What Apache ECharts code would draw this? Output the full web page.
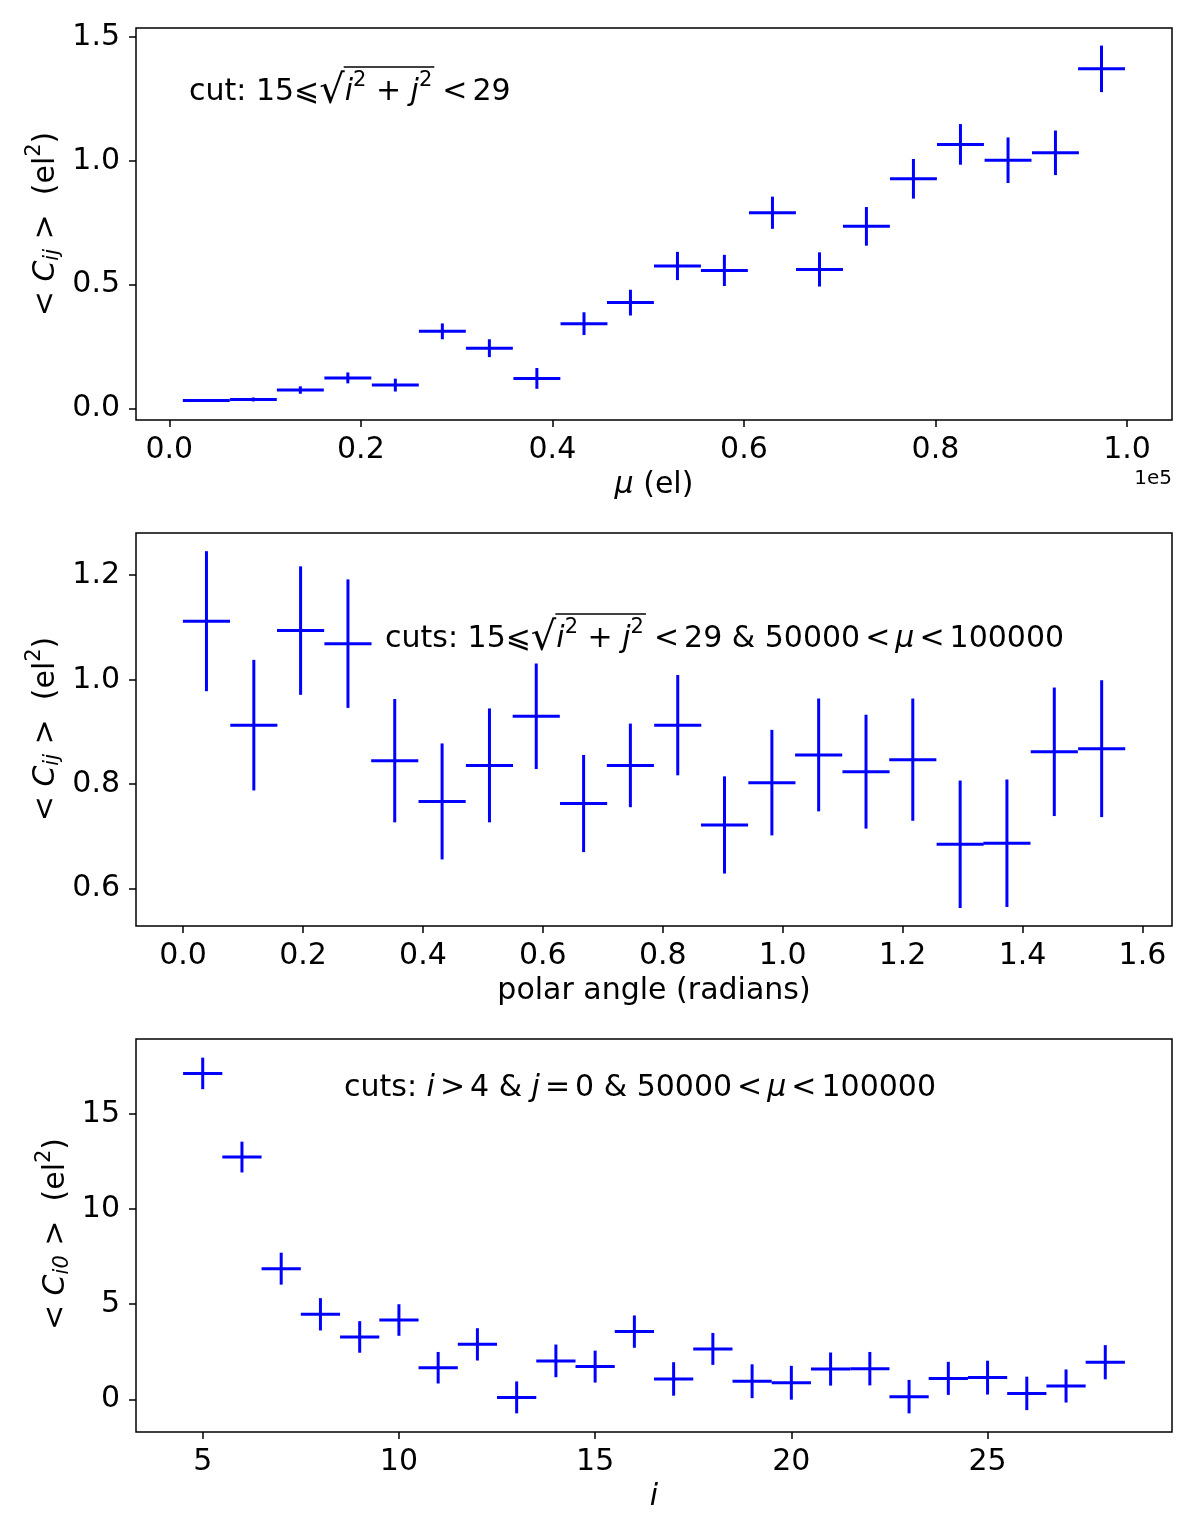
<!DOCTYPE html>
<html>
<head>
<meta charset="utf-8">
<script src="https://cdn.jsdelivr.net/npm/echarts@6/dist/echarts.min.js"></script>
<style>
  html, body { margin: 0; padding: 0; background: #fff; }
  #chartBox { width: 1200px; height: 1535px; }
</style>
</head>
<body>
<div id="chartBox"></div>
<script>
// panel 1: <C_ij> vs mu (el), bins of mu
const muCenters = [3860, 8770, 13680, 18640, 23600, 28510, 33420, 38380, 43300, 48150,
  53060, 57960, 62980, 67890, 72790, 77700, 82610, 87580, 92530, 97340]
const muHalfBin = 2450
const cijByMu = [0.032, 0.036, 0.074, 0.123, 0.094, 0.311, 0.243, 0.121, 0.342, 0.427,
  0.575, 0.557, 0.790, 0.561, 0.735, 0.927, 1.066, 1.002, 1.032, 1.371]
const cijByMuErr = [0.003, 0.008, 0.015, 0.022, 0.026, 0.032, 0.036, 0.042, 0.046, 0.052,
  0.057, 0.063, 0.065, 0.069, 0.078, 0.080, 0.082, 0.092, 0.090, 0.094]

// panel 2: <C_ij> vs polar angle
const angleCenters = [0.039, 0.118, 0.196, 0.275, 0.353, 0.432, 0.511, 0.589, 0.668, 0.746,
  0.825, 0.903, 0.982, 1.060, 1.139, 1.217, 1.296, 1.374, 1.453, 1.532]
const angleHalfBin = 0.0393
const cijByAngle = [1.112, 0.913, 1.094, 1.069, 0.845, 0.767, 0.836, 0.930, 0.763, 0.836,
  0.913, 0.722, 0.803, 0.856, 0.824, 0.847, 0.685, 0.687, 0.862, 0.868]
const cijByAngleErr = [0.134, 0.125, 0.123, 0.123, 0.118, 0.111, 0.109, 0.101, 0.093, 0.080,
  0.096, 0.093, 0.101, 0.108, 0.109, 0.117, 0.122, 0.122, 0.123, 0.131]

// panel 3: <C_i0> vs i
const iValues = [5, 6, 7, 8, 9, 10, 11, 12, 13, 14, 15, 16, 17, 18, 19, 20, 21, 22, 23, 24, 25, 26, 27, 28]
const iHalfBin = 0.5
const ci0 = [17.14, 12.74, 6.87, 4.47, 3.28, 4.17, 1.66, 2.89, 0.10, 2.02, 1.72, 3.56,
  1.07, 2.65, 0.95, 0.87, 1.59, 1.61, 0.14, 1.10, 1.14, 0.31, 0.70, 1.95]
const ci0Err = [0.83, 0.81, 0.84, 0.85, 0.83, 0.83, 0.83, 0.85, 0.84, 0.86, 0.84, 0.85,
  0.88, 0.84, 0.89, 0.89, 0.87, 0.88, 0.88, 0.87, 0.89, 0.88, 0.87, 0.90]

// tick labels
const xTicks1 = [0, 20000, 40000, 60000, 80000, 100000]
const yTicks1 = [0, 0.5, 1.0, 1.5]
const xTicks2 = [0, 0.2, 0.4, 0.6, 0.8, 1.0, 1.2, 1.4, 1.6]
const yTicks2 = [0.6, 0.8, 1.0, 1.2]
const xTicks3 = [5, 10, 15, 20, 25]
const yTicks3 = [0, 5, 10, 15]

const FONT = 'DejaVu Sans'
const FS = 30
const SUB = 21
const BLUE = '#0000ff'
const RS = '\u2006' // 关系符两边的窄空格

// 文字宽度测量, 用来拼公式
const measureCtx = document.createElement('canvas').getContext('2d')
function textWidth(t, size, italic) {
  measureCtx.font = (italic ? 'italic ' : '') + size + 'px "' + FONT + '"'
  return measureCtx.measureText(t).width
}

// segs: {t, it, sz, dy, over}
function mathText(segs, x, y, opts = {}) {
  const children = []
  let cx = 0
  let overStart = null
  let overEnd = null
  segs.forEach((s) => {
    const sz = s.sz || FS
    const w = textWidth(s.t, sz, s.it)
    children.push({
      type: 'text',
      x: cx,
      y: s.dy || 0,
      style: {
        text: s.t,
        font: (s.it ? 'italic ' : '') + sz + 'px "' + FONT + '"',
        fill: '#000',
        align: 'left',
        verticalAlign: 'middle',
      },
    })
    if (s.over) {
      if (overStart === null) overStart = cx
      overEnd = cx + w
    }
    cx += w
  })
  if (overStart !== null) {
    children.push({
      type: 'line',
      shape: { x1: overStart - 1, y1: opts.overY, x2: overEnd + 2, y2: opts.overY },
      style: { stroke: '#000', lineWidth: 1.5 },
    })
  }
  if (opts.center) {
    children.forEach((c) => {
      if (c.type === 'text') c.x -= cx / 2
      else { c.shape.x1 -= cx / 2; c.shape.x2 -= cx / 2 }
    })
  }
  return { type: 'group', x: x, y: y, rotation: opts.rotation || 0, children: children }
}

const sup = (t) => ({ t: t, sz: SUB, dy: -11 })
const sqrtPart = [
  { t: '√', sz: 40, dy: 1 },
  { t: 'i', it: true, over: true },
  { t: '2', sz: SUB, dy: -11, over: true },
  { t: ' + ', over: true },
  { t: 'j', it: true, over: true },
  { t: '2', sz: SUB, dy: -11, over: true },
]

function yLabel(sub, x, y) {
  return mathText([
    { t: '< ' },
    { t: 'C', it: true },
    { t: sub, it: true, sz: SUB, dy: 7 },
    { t: ' >  (el' },
    sup('2'),
    { t: ')' },
  ], x, y, { center: true, rotation: Math.PI / 2 })
}

function errorItem(params, api) {
  const x = api.value(0)
  const y = api.value(1)
  const ex = api.value(2)
  const ey = api.value(3)
  const l = api.coord([x - ex, y])
  const r = api.coord([x + ex, y])
  const b = api.coord([x, y - ey])
  const t = api.coord([x, y + ey])
  const style = { stroke: BLUE, lineWidth: 3 }
  return {
    type: 'group',
    children: [
      { type: 'line', shape: { x1: l[0], y1: l[1], x2: r[0], y2: r[1] }, style: style },
      { type: 'line', shape: { x1: b[0], y1: b[1], x2: t[0], y2: t[1] }, style: style },
    ],
  }
}

function errData(xs, ys, xe, ye) {
  return xs.map((x, k) => [x, ys[k], xe, ye[k]])
}

const axisCommon = {
  type: 'value',
  axisLine: { show: false, onZero: false },
  splitLine: { show: false },
  axisTick: { show: true, length: 7, lineStyle: { color: '#000', width: 1.5 } },
  axisLabel: { color: '#000', fontSize: FS, fontFamily: FONT },
  nameTextStyle: { color: '#000', fontSize: FS, fontFamily: FONT, rich: { it: { fontStyle: 'italic', fontSize: FS, fontFamily: FONT, color: '#000' } } },
}

function xAxis(grid, min, max, ticks, fmt, name) {
  return echarts.util.merge({
    gridIndex: grid, min: min, max: max,
    name: name, nameLocation: 'middle', nameGap: 50,
    axisTick: { customValues: ticks },
    axisLabel: { customValues: ticks, formatter: fmt, margin: 15 },
  }, axisCommon)
}

function yAxis(grid, min, max, ticks, fmt) {
  return echarts.util.merge({
    gridIndex: grid, min: min, max: max,
    axisTick: { customValues: ticks },
    axisLabel: { customValues: ticks, formatter: fmt, margin: 16 },
  }, axisCommon)
}

const gridStyle = { show: true, borderColor: '#000', borderWidth: 1.5, backgroundColor: '#fff' }

const option = {
  backgroundColor: '#fff',
  animation: false,
  grid: [
    Object.assign({ left: 136, right: 28, top: 28, height: 392 }, gridStyle),
    Object.assign({ left: 136, right: 28, top: 533, height: 393 }, gridStyle),
    Object.assign({ left: 136, right: 28, top: 1039, height: 393 }, gridStyle),
  ],
  xAxis: [
    xAxis(0, -3480, 104700, xTicks1, (v) => (v / 1e5).toFixed(1), '{it|μ} (el)'),
    xAxis(1, -0.0785, 1.6493, xTicks2, (v) => v.toFixed(1), 'polar angle (radians)'),
    xAxis(2, 3.3, 29.7, xTicks3, (v) => String(v), '{it|i}'),
  ],
  yAxis: [
    yAxis(0, -0.047, 1.536, yTicks1, (v) => v.toFixed(1)),
    yAxis(1, 0.5286, 1.2808, yTicks2, (v) => v.toFixed(1)),
    yAxis(2, -1.72, 18.95, yTicks3, (v) => String(v)),
  ],
  series: [
    { type: 'custom', xAxisIndex: 0, yAxisIndex: 0, renderItem: errorItem, data: errData(muCenters, cijByMu, muHalfBin, cijByMuErr) },
    { type: 'custom', xAxisIndex: 1, yAxisIndex: 1, renderItem: errorItem, data: errData(angleCenters, cijByAngle, angleHalfBin, cijByAngleErr) },
    { type: 'custom', xAxisIndex: 2, yAxisIndex: 2, renderItem: errorItem, data: errData(iValues, ci0, iHalfBin, ci0Err) },
  ],
  graphic: [
    // annotations
    mathText([{ t: 'cut: 15⩽' }].concat(sqrtPart, [{ t: RS + RS + '<' + RS + '29' }]), 189, 92, { overY: -25 }),
    mathText([{ t: 'cuts: 15⩽' }].concat(sqrtPart, [
      { t: RS + RS + '<' + RS + '29 & 50000' + RS + '<' + RS }, { t: 'μ', it: true }, { t: RS + '<' + RS + '100000' },
    ]), 385, 639, { overY: -25 }),
    mathText([
      { t: 'cuts: ' }, { t: 'i', it: true }, { t: RS + '>' + RS + '4 & ' }, { t: 'j', it: true },
      { t: RS + '=' + RS + '0 & 50000' + RS + '<' + RS }, { t: 'μ', it: true }, { t: RS + '<' + RS + '100000' },
    ], 344, 1088),
    // y labels
    yLabel('ij', 46, 224),
    yLabel('ij', 46, 729),
    yLabel('i0', 56, 1234),
    // offset text
    { type: 'text', x: 1172, y: 479, style: { text: '1e5', font: '20px "' + FONT + '"', fill: '#000', align: 'right', verticalAlign: 'middle' } },
  ],
}

const chartObj = echarts.init(document.getElementById('chartBox'))
chartObj.setOption(option)
</script>
</body>
</html>
